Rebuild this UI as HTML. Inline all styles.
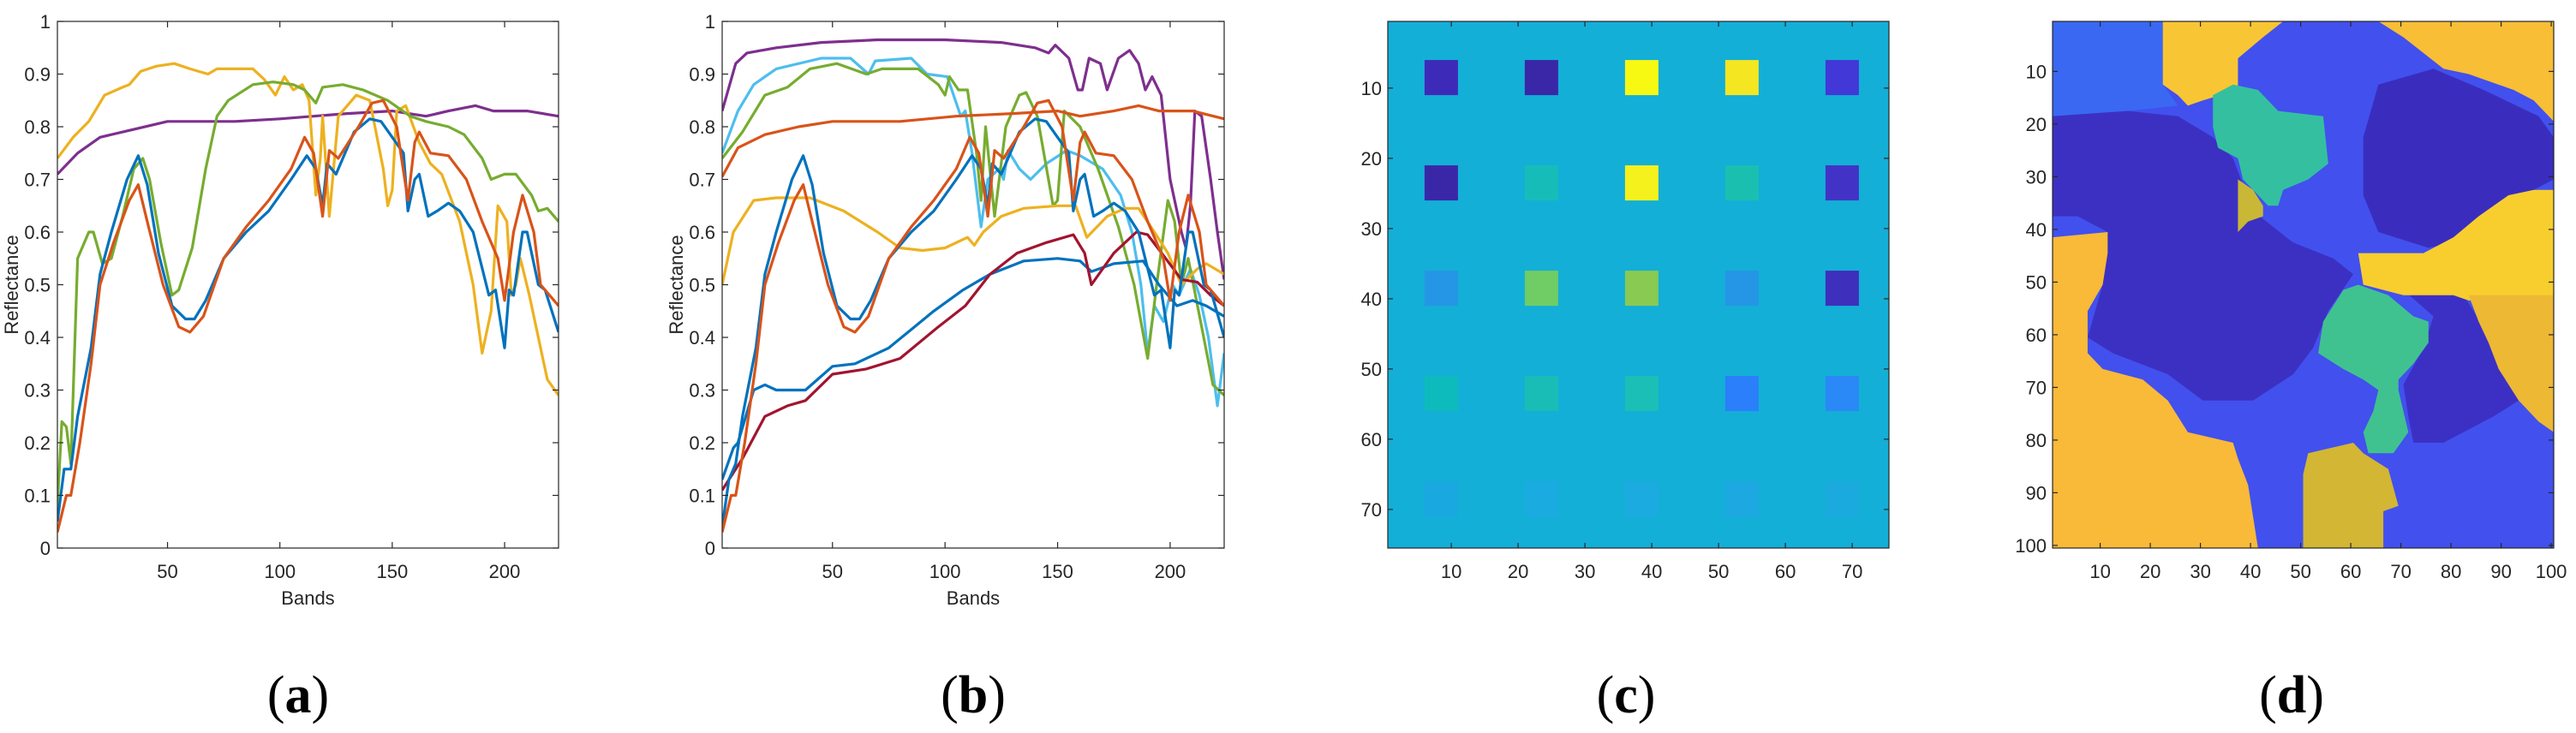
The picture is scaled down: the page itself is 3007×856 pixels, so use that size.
<!DOCTYPE html>
<html><head><meta charset="utf-8"><style>
html,body{margin:0;padding:0;background:#fff;}
svg{display:block;font-family:"Liberation Sans",Arial,sans-serif;}
.tk{font-size:22px;fill:#262626;}
.cap{font-family:"Liberation Serif",serif;font-size:62px;fill:#000;}
</style></head><body>
<svg id="fig" width="3007" height="856" viewBox="0 0 3007 856"></svg>
<script>
// ---------- data ----------
const bandTicks=[50,100,150,200];
const reflTicks=[0,0.1,0.2,0.3,0.4,0.5,0.6,0.7,0.8,0.9,1];
const reflTickLabels=["0","0.1","0.2","0.3","0.4","0.5","0.6","0.7","0.8","0.9","1"];
const aPurple=[[1,.71],[10,.75],[20,.78],[35,.795],[50,.81],[80,.81],[100,.815],[130,.825],[150,.83],[165,.82],[175,.83],[187,.84],[195,.83],[210,.83],[224,.82]];
const aYellow=[[1,.74],[8,.78],[15,.81],[22,.86],[30,.875],[33,.88],[38,.905],[45,.915],[53,.92],[60,.91],[68,.9],[72,.91],[88,.91],[93,.89],[98,.86],[102,.895],[106,.87],[110,.88],[113,.85],[116,.67],[118,.74],[119,.82],[122,.63],[126,.82],[134,.86],[140,.85],[146,.72],[148,.65],[150,.68],[152,.83],[156,.84],[162,.77],[167,.73],[172,.71],[180,.62],[186,.5],[190,.37],[194,.45],[197,.65],[201,.62],[203,.48],[205,.5],[207,.55],[211,.48],[215,.4],[219,.32],[224,.29]];
const aGreen=[[1,.08],[3,.24],[5,.23],[7,.16],[10,.55],[15,.6],[17,.6],[21,.54],[25,.55],[30,.63],[35,.72],[39,.74],[42,.7],[47,.58],[52,.48],[55,.49],[61,.57],[67,.72],[72,.82],[77,.85],[88,.88],[97,.885],[106,.88],[111,.87],[116,.845],[119,.875],[128,.88],[137,.87],[148,.85],[158,.82],[165,.81],[175,.8],[182,.785],[190,.74],[194,.7],[200,.71],[205,.71],[212,.67],[215,.64],[219,.645],[224,.62]];
const aBlue=[[1,.05],[4,.15],[7,.15],[10,.25],[16,.38],[20,.52],[25,.6],[32,.7],[37,.745],[41,.69],[46,.56],[52,.46],[58,.435],[62,.435],[67,.47],[75,.55],[85,.6],[95,.64],[105,.7],[112,.745],[116,.72],[119,.65],[121,.73],[125,.71],[133,.79],[140,.815],[145,.81],[150,.78],[155,.75],[157,.64],[160,.7],[162,.71],[166,.63],[170,.64],[175,.655],[180,.64],[186,.6],[193,.48],[196,.49],[200,.38],[202,.49],[204,.48],[208,.6],[210,.6],[215,.5],[218,.49],[224,.41]];
const aRed=[[1,.03],[5,.1],[7,.1],[11,.2],[16,.35],[20,.5],[26,.58],[33,.66],[37,.69],[41,.62],[48,.5],[55,.42],[60,.41],[66,.44],[75,.55],[85,.61],[95,.66],[105,.72],[111,.78],[115,.75],[119,.63],[122,.755],[126,.74],[135,.8],[141,.845],[146,.85],[152,.8],[157,.66],[160,.77],[162,.79],[167,.75],[175,.745],[183,.7],[190,.62],[197,.55],[200,.47],[204,.6],[208,.67],[213,.6],[216,.5],[220,.48],[224,.46]];
const bPurple=[[1,.83],[7,.92],[12,.94],[25,.95],[45,.96],[70,.965],[100,.965],[125,.96],[140,.95],[146,.94],[149,.955],[155,.93],[159,.87],[161,.87],[164,.93],[169,.92],[172,.87],[177,.93],[182,.945],[186,.92],[189,.87],[192,.895],[196,.86],[200,.7],[205,.6],[207,.57],[209,.65],[211,.83],[214,.82],[218,.7],[221,.6],[224,.51]];
const bLightBlue=[[1,.75],[8,.83],[15,.88],[25,.91],[45,.93],[58,.93],[66,.9],[69,.925],[85,.93],[92,.9],[101,.895],[107,.82],[109,.83],[112,.75],[116,.61],[119,.7],[124,.72],[126,.7],[128,.755],[133,.72],[138,.7],[145,.73],[154,.755],[160,.745],[170,.72],[178,.67],[183,.6],[187,.5],[190,.37],[193,.46],[197,.43],[201,.5],[204,.48],[209,.53],[213,.48],[217,.4],[221,.27],[224,.37]];
const bGreen=[[1,.74],[10,.79],[20,.86],[30,.875],[40,.91],[52,.92],[65,.9],[72,.91],[88,.91],[97,.88],[100,.86],[102,.895],[106,.87],[110,.87],[114,.75],[116,.66],[118,.8],[122,.63],[127,.8],[133,.86],[136,.865],[141,.82],[148,.65],[150,.66],[153,.83],[160,.8],[168,.72],[177,.61],[184,.5],[190,.36],[194,.5],[199,.66],[202,.62],[205,.5],[208,.55],[214,.42],[219,.31],[224,.29]];
const bRedFlat=[[1,.705],[8,.76],[20,.785],[35,.8],[50,.81],[80,.81],[105,.82],[130,.825],[150,.83],[160,.82],[175,.83],[186,.84],[195,.83],[210,.83],[224,.815]];
const bBlue=[[1,.04],[4,.13],[7,.16],[10,.25],[16,.38],[20,.52],[25,.6],[32,.7],[37,.745],[41,.69],[46,.56],[52,.46],[58,.435],[62,.435],[67,.47],[75,.55],[85,.6],[95,.64],[105,.7],[112,.745],[116,.72],[119,.65],[121,.73],[125,.71],[133,.79],[140,.815],[145,.81],[150,.78],[155,.75],[157,.64],[160,.7],[162,.71],[166,.63],[170,.64],[175,.655],[180,.64],[186,.6],[193,.48],[196,.49],[200,.38],[202,.49],[204,.48],[208,.6],[210,.6],[215,.5],[218,.49],[224,.4]];
const bRed=[[1,.03],[5,.1],[7,.1],[11,.2],[16,.35],[20,.5],[26,.58],[33,.66],[37,.69],[41,.62],[48,.5],[55,.42],[60,.41],[66,.44],[75,.55],[85,.61],[95,.66],[105,.72],[111,.78],[115,.75],[119,.63],[122,.755],[126,.74],[135,.8],[141,.845],[146,.85],[152,.8],[157,.66],[160,.77],[162,.79],[167,.75],[175,.745],[183,.7],[190,.62],[197,.55],[200,.47],[204,.6],[208,.67],[213,.6],[216,.5],[220,.48],[224,.46]];
const bYellow=[[1,.5],[6,.6],[15,.66],[25,.665],[40,.665],[55,.64],[70,.6],[80,.57],[90,.565],[100,.57],[110,.59],[113,.575],[117,.6],[125,.63],[135,.645],[150,.65],[158,.65],[163,.59],[172,.63],[180,.645],[186,.645],[193,.6],[199,.56],[205,.5],[212,.53],[216,.54],[224,.52]];
const bBlueLow=[[1,.13],[6,.19],[8,.2],[15,.3],[20,.31],[25,.3],[38,.3],[50,.345],[60,.35],[75,.38],[95,.45],[108,.49],[120,.52],[135,.545],[150,.55],[160,.545],[165,.525],[175,.54],[188,.545],[195,.5],[203,.46],[210,.47],[216,.46],[224,.44]];
const bDarkRed=[[1,.11],[10,.17],[20,.25],[30,.27],[38,.28],[50,.33],[65,.34],[80,.36],[97,.42],[109,.46],[120,.52],[132,.56],[145,.58],[157,.595],[162,.56],[165,.5],[175,.56],[185,.6],[190,.595],[198,.55],[205,.51],[212,.505],[218,.48],[224,.46]];
// chart c: abundance grid (values as colours of 5x5 patches)
const cRowStarts=[6,21,36,51,66];
const cColStarts=[6,21,36,51,66];
const cColors=[
 ["#3E2AB8","#3A27A8","#F8F912","#F5E622","#4237D7"],
 ["#3A27A8","#16BDB8","#F5F11C","#1BBFB0","#4233C6"],
 ["#2596E6","#70CC64","#88CA52","#2596E6","#3F2FBD"],
 ["#0EBBBC","#1ABDB6","#1CBFB5","#2B7FFA","#2B88F7"],
 ["#19A8E0","#1AABE0","#1BABE0","#1DA8E2","#1BAADD"]];
const cTicks=[10,20,30,40,50,60,70];
const dTicks=[10,20,30,40,50,60,70,80,90,100];
// chart d: abundance regions (column,row)
const dRegions=[
 {name:"region-light-blue",c:"#3A68F2",p:[[0,0],[22,0],[22,12],[25,16],[15,17],[0,18]]},
 {name:"region-yellow-top-left",c:"#F8C634",p:[[22,0],[46,0],[42,3],[37,7],[37,13],[30,15],[27,16],[25,14],[22,12]]},
 {name:"region-yellow-top-right",c:"#F7BE36",p:[[65,0],[100,0],[100,19],[96,15],[92,13],[83,10],[78,9],[74,6],[70,3]]},
 {name:"region-dark-left",c:"#3C30C2",p:[[0,18],[15,17],[25,18],[32,22],[36,26],[40,36],[48,42],[56,45],[60,48],[55,55],[52,62],[48,67],[40,72],[30,72],[23,67],[12,63],[7,60],[10,50],[11,40],[5,37],[0,37]]},
 {name:"region-dark-right",c:"#3A2DBE",p:[[65,12],[76,9],[86,13],[97,18],[100,22],[100,30],[92,34],[85,39],[80,42],[75,43],[65,40],[62,33],[62,22]]},
 {name:"region-dark-right-lower",c:"#3C30C4",p:[[70,51],[82,52],[86,58],[89,66],[93,72],[88,75],[82,78],[78,80],[72,80],[71,75],[70,69],[74,62],[76,56]]},
 {name:"region-yellow-right",c:"#F8CE2E",p:[[100,32],[100,53],[83,53],[80,52],[70,52],[62,50],[61,44],[74,44],[80,41],[85,37],[91,33],[96,32]]},
 {name:"region-orange-right",c:"#EDB834",p:[[83,52],[100,52],[100,78],[97,76],[93,72],[89,66],[87,61],[85,57]]},
 {name:"region-orange-left",c:"#F8BA38",p:[[0,41],[11,40],[11,44],[10,50],[7,55],[7,63],[10,66],[18,68],[23,72],[27,78],[36,80],[37,83],[39,88],[40,94],[41,100],[0,100]]},
 {name:"region-olive-bottom",c:"#D2B634",p:[[51,82],[60,80],[62,82],[67,85],[69,92],[66,93],[66,100],[50,100],[50,86]]},
 {name:"region-teal-top",c:"#34C0A0",p:[[32,14],[36,12],[41,13],[45,17],[54,18],[55,27],[51,30],[46,32],[45,35],[43,35],[38,30],[37,26],[33,24],[32,20]]},
 {name:"region-olive-small",c:"#C8B836",p:[[37,30],[40,32],[42,35],[42,37],[39,38],[37,40]]},
 {name:"region-teal-middle",c:"#40C290",p:[[58,51],[61,50],[67,52],[72,56],[75,57],[75,61],[72,65],[69,68],[69,70],[70,74],[71,78],[68,82],[63,82],[62,78],[64,74],[65,70],[62,68],[58,66],[53,63],[54,57]]}
];
// ---------- drawing ----------
const NS="http://www.w3.org/2000/svg";
const svg=document.getElementById('fig');
function mk(tag,attrs,parent){const e=document.createElementNS(NS,tag);for(const k in attrs)e.setAttribute(k,attrs[k]);(parent||svg).appendChild(e);return e;}
function txt(s,attrs,parent){const e=mk('text',attrs,parent);e.textContent=s;return e;}
const T=25,B=640;
function lineChart(id,L,R,series,cap,capX){
  const g=mk('g',{});
  
  
  const xs=v=>L+(v-1)/(224-1)*(R-L), ys=v=>B-v*(B-T);
  const clipId=id+'-clip';
  const cp=mk('clipPath',{id:clipId},g);mk('rect',{x:L,y:T,width:R-L,height:B-T},cp);
  const lines=mk('g',{'clip-path':'url(#'+clipId+')'},g);
  series.forEach(s=>{
    const p=mk('polyline',{points:s.d.map(q=>xs(q[0]).toFixed(1)+','+ys(q[1]).toFixed(1)).join(' '),fill:'none',stroke:s.c,'stroke-width':3.2,'stroke-linejoin':'round'},lines);
    
    
  });
  const box=mk('rect',{x:L,y:T,width:R-L,height:B-T,fill:'none',stroke:'#262626','stroke-width':1.2},g);
  
  
  reflTicks.forEach((v,i)=>{
    const y=ys(v);
    mk('line',{x1:L,x2:L+7,y1:y,y2:y,stroke:'#262626','stroke-width':1.2},g);
    mk('line',{x1:R,x2:R-7,y1:y,y2:y,stroke:'#262626','stroke-width':1.2},g);
    const t=txt(reflTickLabels[i],{x:L-8,y:y+8,'text-anchor':'end',class:'tk'},g);
    
    
  });
  bandTicks.forEach(v=>{
    const x=xs(v);
    mk('line',{x1:x,x2:x,y1:B,y2:B-7,stroke:'#262626','stroke-width':1.2},g);
    mk('line',{x1:x,x2:x,y1:T,y2:T+7,stroke:'#262626','stroke-width':1.2},g);
    const t=txt(String(v),{x:x,y:B+35,'text-anchor':'middle',class:'tk'},g);
    
    
  });
  const xl=txt('Bands',{x:(L+R)/2,y:706,'text-anchor':'middle',class:'tk'},g);
  
  
  const yl=txt('Reflectance',{x:0,y:0,'text-anchor':'middle',class:'tk',transform:'translate('+(L-46)+','+((T+B)/2)+') rotate(-90)'},g);
  
  
  caption(cap,capX,g);
}
function caption(letter,x,g){
  const t=mk('text',{x:x,y:832,'text-anchor':'middle',class:'cap'},g);
  
  
  t.appendChild(document.createTextNode('('));
  const b=mk('tspan',{'font-weight':'bold'},t);b.textContent=letter;
  t.appendChild(document.createTextNode(')'));
}
const C={blue:'#0072BD',red:'#D95319',yellow:'#EDB120',purple:'#7E2F8E',green:'#77AC30',lblue:'#4DBEEE',dred:'#A2142F'};
lineChart('chart-a',67,652,[
 {n:'line-purple',c:C.purple,d:aPurple},{n:'line-yellow',c:C.yellow,d:aYellow},{n:'line-green',c:C.green,d:aGreen},
 {n:'line-blue',c:C.blue,d:aBlue},{n:'line-red',c:C.red,d:aRed}],'a',348);
lineChart('chart-b',843,1429,[
 {n:'line-purple',c:C.purple,d:bPurple},{n:'line-light-blue',c:C.lblue,d:bLightBlue},{n:'line-green',c:C.green,d:bGreen},
 {n:'line-red-flat',c:C.red,d:bRedFlat},{n:'line-yellow',c:C.yellow,d:bYellow},{n:'line-blue-low',c:C.blue,d:bBlueLow},
 {n:'line-dark-red',c:C.dred,d:bDarkRed},{n:'line-blue',c:C.blue,d:bBlue},{n:'line-red',c:C.red,d:bRed}],'b',1136);

function imageAxes(g,L,R,n,ticks){
  const xs=v=>L+(v-0.5)/n*(R-L), ys=v=>T+(v-0.5)/n*(B-T);
  ticks.forEach(v=>{
    const x=xs(v),y=ys(v);
    mk('line',{x1:x,x2:x,y1:B,y2:B-6,stroke:'#262626','stroke-width':1.2},g);
    mk('line',{x1:x,x2:x,y1:T,y2:T+6,stroke:'#262626','stroke-width':1.2},g);
    mk('line',{x1:L,x2:L+6,y1:y,y2:y,stroke:'#262626','stroke-width':1.2},g);
    mk('line',{x1:R,x2:R-6,y1:y,y2:y,stroke:'#262626','stroke-width':1.2},g);
    const tx=txt(String(v),{x:x,y:B+35,'text-anchor':'middle',class:'tk'},g);
    
    
    const ty=txt(String(v),{x:L-7,y:y+8,'text-anchor':'end',class:'tk'},g);
    
    
  });
  const box=mk('rect',{x:L,y:T,width:R-L,height:B-T,fill:'none',stroke:'#262626','stroke-width':1.2},g);
  
  
  return [xs,ys];
}
// chart c
(function(){
  const L=1620,R=2205,n=75;
  const g=mk('g',{});
  
  
  const bg=mk('rect',{x:L,y:T,width:R-L,height:B-T,fill:'#13AFD7'},g);
  
  
  const xs=v=>L+(v-0.5)/n*(R-L), ys=v=>T+(v-0.5)/n*(B-T);
  cRowStarts.forEach((r,i)=>cColStarts.forEach((c,j)=>{
    const e=mk('rect',{x:xs(c),y:ys(r),width:xs(c+5)-xs(c),height:ys(r+5)-ys(r),fill:cColors[i][j]},g);
    
    
  }));
  imageAxes(g,L,R,n,cTicks);
  caption('c',1898,g);
})();
// chart d
(function(){
  const L=2396,R=2981,n=100;
  const g=mk('g',{});
  
  
  const bg=mk('rect',{x:L,y:T,width:R-L,height:B-T,fill:'#4250EE'},g);
  
  
  const xs=v=>L+v/n*(R-L), ys=v=>T+v/n*(B-T);
  const cp=mk('clipPath',{id:'d-clip'},g);mk('rect',{x:L,y:T,width:R-L,height:B-T},cp);
  const rg=mk('g',{'clip-path':'url(#d-clip)'},g);
  dRegions.forEach(r=>{
    const e=mk('polygon',{points:r.p.map(q=>xs(q[0]).toFixed(1)+','+ys(q[1]).toFixed(1)).join(' '),fill:r.c},rg);
    
    
  });
  imageAxes(g,L,R,n,dTicks);
  caption('d',2675,g);
})();
</script>
</body></html>
